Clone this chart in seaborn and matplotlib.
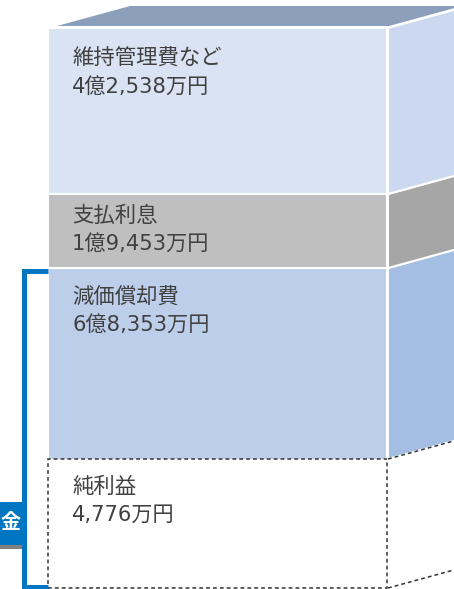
import numpy as np
import matplotlib
matplotlib.use("Agg")
import matplotlib.pyplot as plt
from matplotlib.patches import Polygon, Rectangle
import seaborn as sns

# Data, listed from the bottom segment to the top one
items = ["純利益", "減価償却費", "支払利息", "維持管理費など"]
amounts = ["4,776万円", "6億8,353万円", "1億9,453万円", "4億2,538万円"]
amount_man_yen = [4776, 68353, 19453, 42538]
bracket_label = "金"

# Layout in pixels (the picture is schematic, box heights are not to scale)
W, H = 454, 589
box_h = [129, 191, 74, 166]
front_left, front_right = 48, 387
side_left = 388
depth_x, depth_y = 73, 20
label_pad = [28, 29, 22, 31]
line_gap = 27.5
text_x = 72

face_colors = ["white", "#BDCEEB", "#BFBFBF", "#DAE3F3"]
side_colors = ["white", "#A4BEE3", "#A6A6A6", "#CBD8EF"]
top_color = "#8C9FBA"
text_color = "#404040"
blue = "#0075C1"
dash_color = "#333333"
dash = (0, (2.5, 2))

sns.set_style("white")
plt.rcParams["font.family"] = ["Noto Sans CJK JP", "DejaVu Sans"]
mixed = ["DejaVu Sans", "Noto Sans CJK JP"]

# pixel -> data coordinates (bar centred on category 0, width 0.8)
bar_w = 0.8
scale = bar_w / (front_right - front_left)
def X(px):
    return -bar_w / 2 + (px - front_left) * scale
def Y(py):
    return 588 - py

fig = plt.figure(figsize=(W / 100, H / 100), dpi=100)
ax = fig.add_axes([0, 0, 1, 1])

# Front faces: stacked via cumulative bars, tallest first
tops = np.cumsum(box_h)
for i in range(len(items) - 1, -1, -1):
    dashed = i == 0
    sns.barplot(x=["box"], y=[tops[i]], color=face_colors[i], saturation=1,
                width=bar_w, errorbar=None,
                edgecolor=dash_color if dashed else "white",
                linewidth=1.1 if dashed else 1.5,
                linestyle=dash if dashed else "-", ax=ax)

# Side faces
for i in range(len(items)):
    t = 588 - tops[i]
    b = 588 - (tops[i - 1] if i > 0 else 0)
    pts = [(side_left, t), (side_left + depth_x, t - depth_y),
           (side_left + depth_x, b - depth_y), (side_left, b)]
    pts = [(X(px), Y(py)) for px, py in pts]
    if i == 0:
        ax.add_patch(Polygon(pts, closed=True, facecolor="white", edgecolor="none"))
        for (x0, y0), (x1, y1) in [(pts[0], pts[1]), (pts[3], pts[2])]:
            ax.plot([x0, x1], [y0, y1], color=dash_color, lw=1.1, linestyle=dash)
    else:
        ax.add_patch(Polygon(pts, closed=True, facecolor=side_colors[i],
                             edgecolor="white", linewidth=1.5))

# Top face
top_pts = [(57, 26), (389, 26), (389 + depth_x, 26 - depth_y), (57 + depth_x, 26 - depth_y)]
ax.add_patch(Polygon([(X(px), Y(py)) for px, py in top_pts], closed=True,
                     facecolor=top_color, edgecolor="none"))

# Labels
for i in range(len(items)):
    y1 = 588 - tops[i] + label_pad[i]
    ax.text(X(text_x), Y(y1), items[i], ha="left", va="center",
            fontsize=15.4, color=text_color)
    ax.text(X(text_x), Y(y1 + line_gap), amounts[i], ha="left", va="center",
            fontsize=15.2, color=text_color, family=mixed)

# Blue bracket with its label
ax.plot([X(48), X(24.5), X(24.5), X(48)], [Y(270.5), Y(270.5), Y(587), Y(587)],
        color=blue, lw=3.6, solid_joinstyle="miter", solid_capstyle="butt")
ax.add_patch(Rectangle((X(-5), Y(545)), X(22) - X(-5), Y(502) - Y(545),
                       facecolor=blue, edgecolor="none"))
ax.add_patch(Rectangle((X(-5), Y(549)), X(22) - X(-5), Y(545) - Y(549),
                       facecolor="#808080", edgecolor="none"))
ax.text(X(10.5), Y(521), bracket_label, ha="center", va="center",
        fontsize=14.5, fontweight="bold", color="white")

ax.set_xlim(X(0), X(W))
ax.set_ylim(Y(H), Y(0))
ax.axis("off")

fig.savefig("out.png", dpi=100)
